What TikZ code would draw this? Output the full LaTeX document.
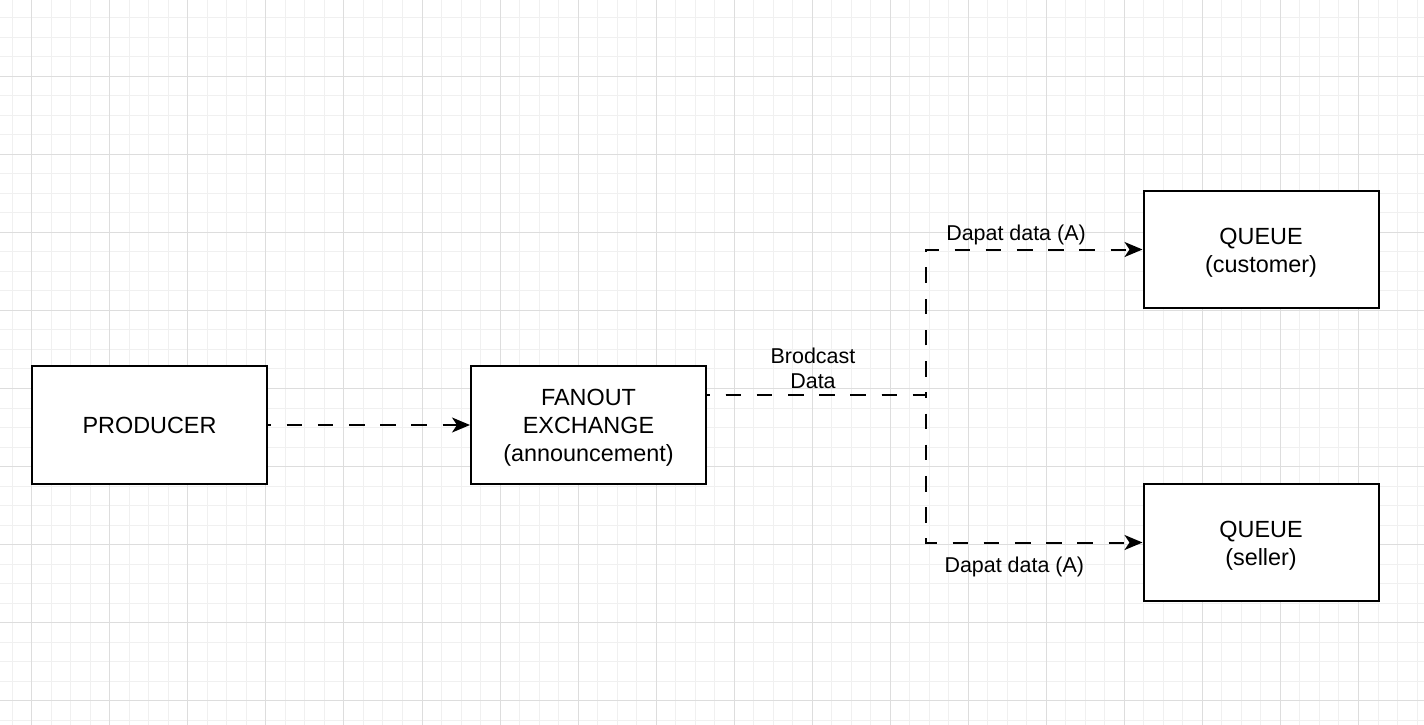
\documentclass[tikz,border=0pt]{standalone}
\usepackage{fontspec}
\setmainfont{Liberation Sans}
\usetikzlibrary{arrows.meta,calc}
\definecolor{gridminor}{RGB}{240,240,240}
\definecolor{gridmajor}{RGB}{221,221,221}
\tikzset{
  boxnode/.style={draw=black,line width=2pt,fill=white,minimum width=235pt,minimum height=117.5pt,inner sep=0pt,align=center,font=\fontsize{23.4}{28.08}\selectfont},
  conn/.style={draw=black,line width=2pt,dash pattern=on 15.6pt off 15.6pt,dash phase=12.6pt,-{Stealth[length=18pt,width=15pt,inset=5pt]}},
  lbl/.style={inner sep=0pt,align=center,font=\fontsize{21.45}{25.74}\selectfont},
  minorline/.style={draw=gridminor,line width=1pt},
  majorline/.style={draw=gridmajor,line width=1pt}
}
\begin{document}
\begin{tikzpicture}[x=1pt,y=-1pt]
\useasboundingbox (0,0) rectangle (1424,725);
\fill[white] (0,0) rectangle (1424,725);
% grid
\foreach \i in {0,...,72} \draw[minorline] ({12.3+19.51*\i},0) -- ++(0,725);
\foreach \i in {0,...,37} \draw[minorline] (0,{17.8+19.51*\i}) -- ++(1424,0);
\foreach \i in {0,...,18} \draw[majorline] ({31.8+78.04*\i},0) -- ++(0,725);
\foreach \i in {0,...,8} \draw[majorline] (0,{76.3+78.04*\i}) -- ++(1424,0);
% boxes
\node[boxnode,minimum height=118pt] (prod) at (149.5,425) {PRODUCER};
\node[boxnode,minimum height=118pt] (fan) at (588.5,425) {\rule{0pt}{22.6pt}FANOUT\\EXCHANGE\\(announcement)};
\node[boxnode] (cust) at (1261,249.5) {\rule{0pt}{22.6pt}QUEUE\\(customer)};
\node[boxnode] (sell) at (1261,542.5) {\rule{0pt}{22.6pt}QUEUE\\(seller)};
% connectors
\coordinate (fanout) at ($(fan.north east)!0.25!(fan.south east)$);
\coordinate (split) at ($(fanout)+(218.5,0)$);
\draw[conn] (prod.east) -- (fan.west);
\draw[conn] (fanout) -- (split) |- (cust.west);
\draw[conn] (fanout) -- (split) |- (sell.west);
% labels
\node[lbl] (bd) at (813,368.3) {Brodcast\\Data};
\node[lbl,anchor=base] (dtop) at (1016,240) {Dapat data (A)};
\node[lbl,anchor=base] (dbot) at (1014.3,572.3) {Dapat data (A)};
\end{tikzpicture}
\end{document}
